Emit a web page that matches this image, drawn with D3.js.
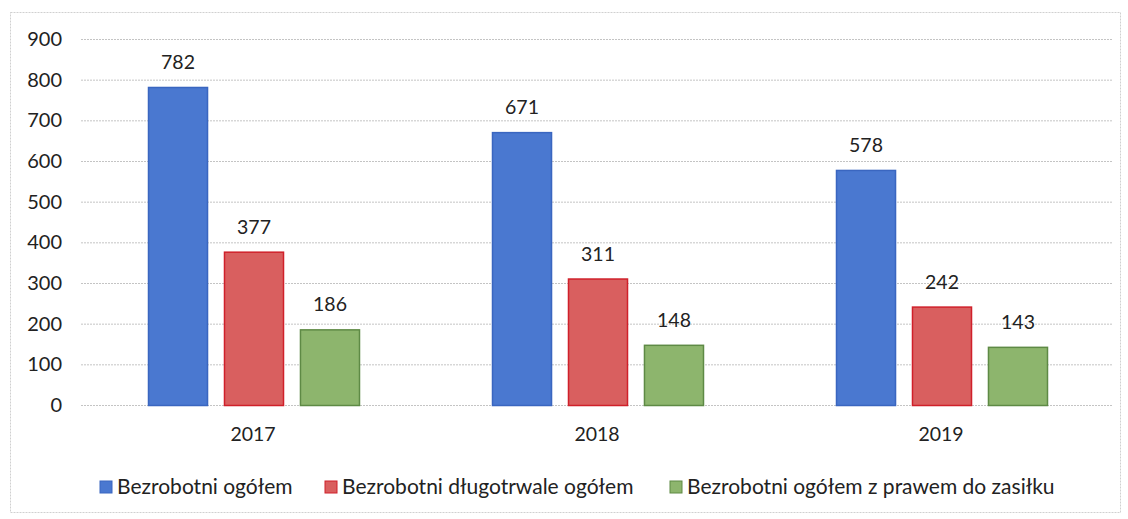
<!DOCTYPE html>
<html>
<head>
<meta charset="utf-8">
<script src="https://cdn.jsdelivr.net/npm/d3@7"></script>
<style>
  body { margin: 0; background: #fff; }
  svg { font-family: Lato, "Open Sans", sans-serif; }
</style>
</head>
<body>
<svg id="chart" width="1128" height="519"></svg>
<script>
// data
const years = ["2017", "2018", "2019"];
const seriesNames = ["Bezrobotni ogółem", "Bezrobotni długotrwale ogółem", "Bezrobotni ogółem z prawem do zasiłku"];
const ogolem = [782, 671, 578];
const dlugotrwale = [377, 311, 242];
const zasilek = [186, 148, 143];
const yTicks = [0, 100, 200, 300, 400, 500, 600, 700, 800, 900];

const series = [ogolem, dlugotrwale, zasilek];
const fills = ["#4a78d0", "#d95f5f", "#8db56d"];
const strokes = ["#3a66c0", "#d0202a", "#5e8a45"];

const svg = d3.select("#chart");

// frame
svg.append("rect")
    .attr("x", 10.5).attr("y", 12.5)
    .attr("width", 1110).attr("height", 500)
    .attr("fill", "none")
    .attr("stroke", "#d0d0d0")
    .attr("stroke-dasharray", "2,1");

const x0 = d3.scaleBand().domain(years).range([81, 1113]);
const x1 = d3.scaleBand().domain(d3.range(3)).range([67, 279]).paddingInner(0.21);
const y = d3.scaleLinear().domain([0, 900]).range([405, 39]);

// grid
svg.append("g")
    .selectAll("line")
    .data(yTicks)
    .enter()
    .append("line")
    .attr("x1", 81).attr("x2", 1113)
    .attr("y1", d => y(d) + 0.5).attr("y2", d => y(d) + 0.5)
    .attr("stroke", "#c4c4c4")
    .attr("stroke-dasharray", "2,1");

// y axis labels
const yAxis = svg.append("g")
    .attr("transform", "translate(62,0)")
    .call(d3.axisLeft(y).tickValues(yTicks).tickSize(0).tickPadding(0));
yAxis.select(".domain").remove();
yAxis.selectAll("text")
    .attr("font-size", 20)
    .attr("fill", "#222")
    .attr("font-family", "Lato, 'Open Sans', sans-serif");

// x axis labels
const xAxis = svg.append("g")
    .attr("transform", "translate(0,424)")
    .call(d3.axisBottom(x0).tickSize(0).tickPadding(0));
xAxis.select(".domain").remove();
xAxis.selectAll("text")
    .attr("font-size", 19.5)
    .attr("fill", "#222")
    .attr("dy", "0.85em")
    .attr("font-family", "Lato, 'Open Sans', sans-serif");

// bars
const groups = svg.append("g")
    .selectAll("g")
    .data(years)
    .enter()
    .append("g")
    .attr("transform", d => `translate(${x0(d)},0)`);

groups.selectAll("rect")
    .data((d, i) => series.map((s, k) => ({ k: k, v: s[i] })))
    .enter()
    .append("rect")
    .attr("x", d => x1(d.k) + 0.5)
    .attr("y", d => y(d.v) + 0.5)
    .attr("width", x1.bandwidth() - 1)
    .attr("height", d => y(0) - y(d.v))
    .attr("fill", d => fills[d.k])
    .attr("stroke", d => strokes[d.k])
    .attr("stroke-width", 1.5);

groups.selectAll("text")
    .data((d, i) => series.map((s, k) => ({ k: k, v: s[i] })))
    .enter()
    .append("text")
    .attr("x", d => x1(d.k) + x1.bandwidth() / 2)
    .attr("y", d => y(d.v) - 18)
    .attr("text-anchor", "middle")
    .attr("font-size", 19.5)
    .attr("fill", "#222")
    .text(d => d.v);

// legend
const legendX = [100, 325, 670];
const legend = svg.append("g")
    .selectAll("g")
    .data(seriesNames)
    .enter()
    .append("g")
    .attr("transform", (d, i) => `translate(${legendX[i]},487)`);

legend.append("rect")
    .attr("x", 0).attr("y", -6)
    .attr("width", 12).attr("height", 12)
    .attr("fill", (d, i) => fills[i])
    .attr("stroke", (d, i) => strokes[i]);

legend.append("text")
    .attr("x", 17).attr("y", 0)
    .attr("dy", "0.35em")
    .attr("font-size", 21)
    .attr("fill", "#222")
    .text(d => d);
</script>
</body>
</html>
